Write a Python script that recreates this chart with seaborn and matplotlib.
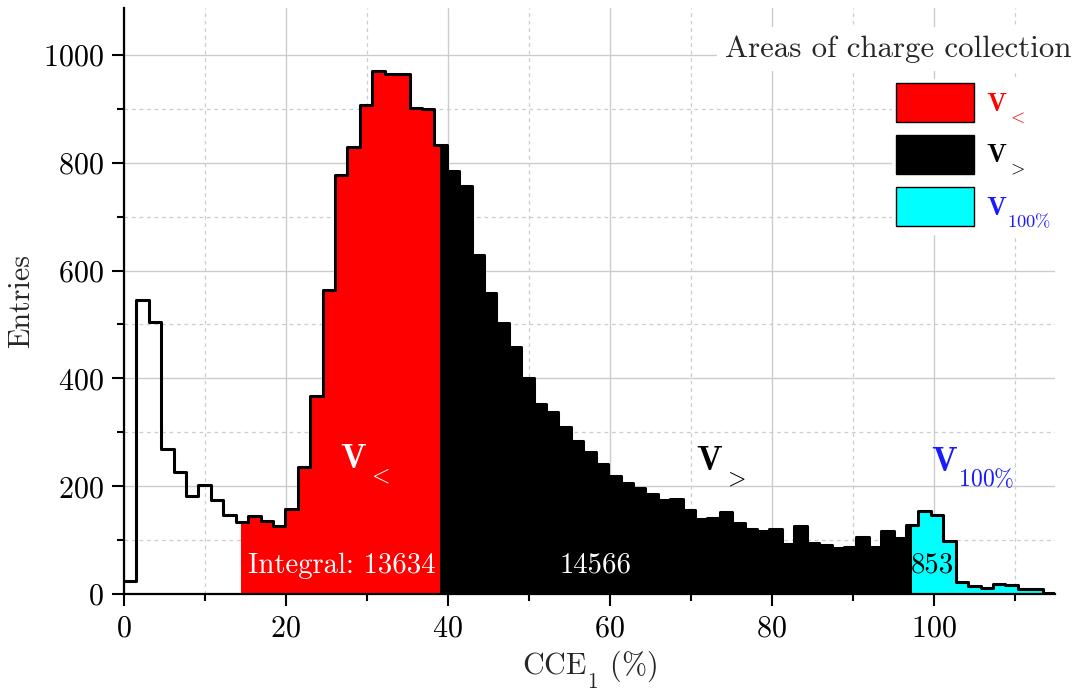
import numpy as np
import pandas as pd
import matplotlib
matplotlib.use("Agg")
import matplotlib.pyplot as plt
import matplotlib._mathtext as mathtext_impl
from matplotlib.patches import Patch
from matplotlib.ticker import MultipleLocator
import seaborn as sns

# Histogram of charge collection efficiency: 75 bins over 0-115 %
bin_lo, bin_hi, n_bins = 0.0, 115.0, 75
entries = [
    25, 545, 504, 269, 226, 182, 202, 174, 146, 134,
    145, 136, 126, 158, 236, 368, 564, 777, 830, 907,
    971, 965, 965, 901, 900, 832, 785, 757, 629, 558,
    503, 459, 400, 352, 338, 309, 284, 264, 242, 218,
    205, 196, 186, 174, 177, 156, 139, 141, 152, 131,
    121, 117, 121, 93, 127, 95, 90, 86, 87, 105,
    87, 117, 103, 128, 154, 147, 98, 22, 15, 11,
    19, 16, 9, 9, 2,
]

# CCE ranges of the three collection areas and their integrals
area_names = [r"$\mathbf{V}_{<}$", r"$\mathbf{V}_{>}$", r"$\mathbf{V}_{\mathbf{100\%}}$"]
area_lo = [14.5, 39.0, 97.3]
area_hi = [39.0, 97.3, 113.47]
area_fill = ["#ff0000", "#000000", "#00ffff"]
area_text = ["#ff0000", "#000000", "#1a1aff"]
area_integral = ["Integral: 13634", "14566", "853"]

edges = np.linspace(bin_lo, bin_hi, n_bins + 1)
counts = np.asarray(entries, dtype=float)
centers = 0.5 * (edges[:-1] + edges[1:])
df = pd.DataFrame({"cce": centers, "entries": counts})

sns.set_style("white")
plt.rcParams["font.family"] = "serif"
plt.rcParams["font.serif"] = ["cmr10", "DejaVu Serif"]
plt.rcParams["mathtext.fontset"] = "cm"
plt.rcParams["axes.formatter.use_mathtext"] = True
plt.rcParams["axes.unicode_minus"] = False
# TeX-like deeper subscripts for the Computer Modern math fonts
mathtext_impl.ComputerModernFontConstants.sub1 = 0.55

W, H, DPI = 1077, 690, 100
fig = plt.figure(figsize=(W / DPI, H / DPI), dpi=DPI)
ax = fig.add_axes([124 / W, 1 - 594 / H, 931 / W, 586 / H])


def fill_area(lo, hi, color):
    """Shade the histogram between lo and hi following its steps."""
    inner = edges[(edges > lo) & (edges < hi)]
    xs = np.concatenate([[lo], inner, [hi]])
    idx = np.clip(np.searchsorted(edges, xs, side="right") - 1, 0, len(counts) - 1)
    ax.fill_between(xs, counts[idx], step="post", color=color, lw=0, zorder=2)


for lo, hi, c in zip(area_lo, area_hi, area_fill):
    fill_area(lo, hi, c)

sns.histplot(data=df, x="cce", weights="entries", bins=n_bins,
             binrange=(bin_lo, bin_hi), element="step",
             fill=False, color="black", linewidth=2.2, ax=ax, zorder=3)

ax.set_xlim(bin_lo, bin_hi)
ax.set_ylim(0, 1087)

# grid: solid majors, dashed minors
ax.xaxis.set_major_locator(MultipleLocator(20))
ax.xaxis.set_minor_locator(MultipleLocator(10))
ax.yaxis.set_major_locator(MultipleLocator(200))
ax.yaxis.set_minor_locator(MultipleLocator(100))
ax.set_axisbelow(True)
ax.grid(True, which="major", color="#cccccc", lw=1.0, ls="-", zorder=0)
ax.grid(True, which="minor", color="#cccccc", lw=0.9, ls=(0, (3, 3)), zorder=0)

for s in ["top", "right"]:
    ax.spines[s].set_visible(False)
for s in ["left", "bottom"]:
    ax.spines[s].set_color("black")
    ax.spines[s].set_linewidth(1.6)
    ax.spines[s].set_zorder(4)

ax.tick_params(which="major", direction="out", length=8.5, width=1.5,
               labelsize=21.7, pad=6, colors="black", left=True, bottom=True)
ax.tick_params(which="minor", direction="out", length=5, width=1.5,
               left=True, bottom=True, colors="black")

ax.set_xlabel(r"CCE$_1$ (%)", fontsize=21.7)
ax.set_ylabel("Entries", fontsize=21.7)
ax.xaxis.set_label_coords(0.5, -0.093)
ax.yaxis.set_label_coords(-0.095, 0.5)

# area labels and integrals
label_x = [26.7, 70.7, 99.7]
label_y = [232, 229, 225]
label_col = ["white", "black", "#1a1aff"]
for name, x, y, c in zip(area_names, label_x, label_y, label_col):
    ax.text(x, y, name, color=c, fontsize=24.5, ha="left", va="baseline", zorder=5)

integral_x = [15.3, 58.3, 99.8]
integral_ha = ["left", "center", "center"]
integral_col = ["white", "white", "black"]
for t, x, ha, c in zip(area_integral, integral_x, integral_ha, integral_col):
    ax.text(x, 39, t, color=c, fontsize=20.7, ha=ha, va="baseline", zorder=5)

# legend
handles = [Patch(facecolor=c, edgecolor="black", linewidth=1.0) for c in area_fill]
leg = ax.legend(handles, area_names, loc="upper left",
                bbox_to_anchor=(892 / W, 1 - 79 / H), bbox_transform=fig.transFigure,
                fontsize=19, labelcolor=area_text, frameon=True, fancybox=False,
                framealpha=1.0, edgecolor="white", facecolor="white",
                handlelength=2.95, handleheight=1.9, handletextpad=0.45,
                labelspacing=0.35, borderpad=0.15, borderaxespad=0)
leg.set_zorder(6)
fig.text(725 / W, 1 - 57 / H, "Areas of charge collection", fontsize=22.2,
         ha="left", va="baseline", zorder=7,
         bbox=dict(facecolor="white", edgecolor="none", pad=6))

fig.savefig("out.png", dpi=DPI)
